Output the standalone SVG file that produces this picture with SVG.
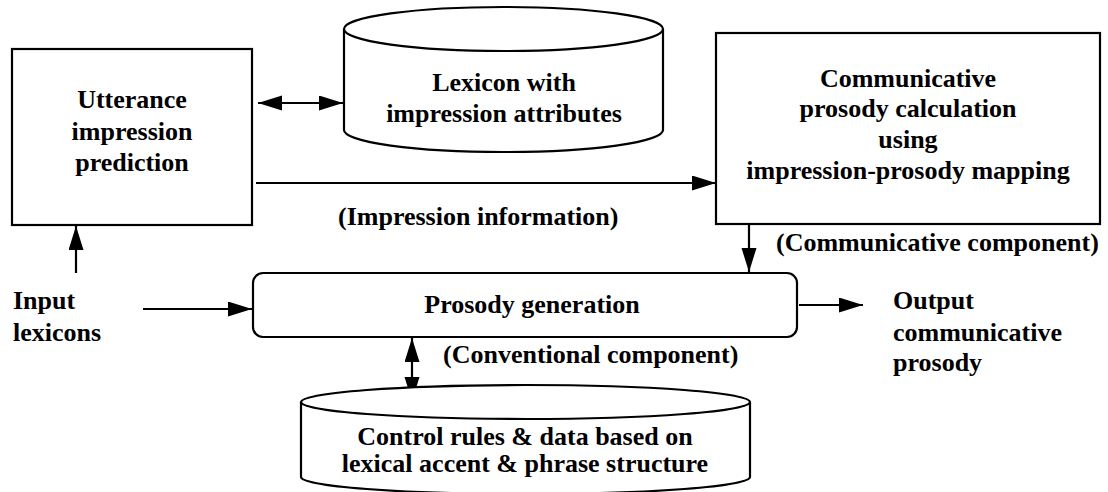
<svg xmlns="http://www.w3.org/2000/svg" width="1108" height="492" viewBox="0 0 1108 492">
<style>
.shape{fill:#fff;stroke:#000;stroke-width:2.2}
.line{fill:none;stroke:#000;stroke-width:2.2}
text{font-family:"Liberation Serif","Times New Roman",serif;font-weight:bold;font-size:26px;fill:#000}
.c{text-anchor:middle}
</style>
<defs>
<marker id="ah" markerUnits="userSpaceOnUse" markerWidth="25" markerHeight="16" refX="24" refY="7.5" orient="auto-start-reverse">
<path d="M0,0 L24,7.5 L0,15 z" fill="#000"/>
</marker>
</defs>
<rect width="1108" height="492" fill="#fff"/>
<g id="connectors">
<line class="line" x1="258" y1="103" x2="343" y2="103" marker-start="url(#ah)" marker-end="url(#ah)"/>
<line class="line" x1="256" y1="183" x2="716" y2="183" marker-end="url(#ah)"/>
<line class="line" x1="76" y1="273" x2="76" y2="226" marker-end="url(#ah)"/>
<line class="line" x1="143" y1="309" x2="252" y2="309" marker-end="url(#ah)"/>
<line class="line" x1="749" y1="225" x2="749" y2="272" marker-end="url(#ah)"/>
<line class="line" x1="799" y1="305" x2="863" y2="305" marker-end="url(#ah)"/>
<line class="line" x1="412" y1="338" x2="412" y2="401" marker-start="url(#ah)" marker-end="url(#ah)"/>
<text x="338" y="225">(Impression information)</text>
<text x="776" y="251">(Communicative component)</text>
<text x="443" y="363">(Conventional component)</text>
</g>
<g id="utterance">
<rect class="shape" x="12" y="49" width="240" height="176"/>
<text class="c" x="132" y="108">Utterance</text>
<text class="c" x="132" y="140">impression</text>
<text class="c" x="132" y="171">prediction</text>
</g>
<g id="lexicon">
<path class="shape" d="M344,29 L344,130 A159.5,22 0 0 0 663,130 L663,29"/>
<ellipse class="shape" cx="503.5" cy="29" rx="159.5" ry="22"/>
<text class="c" x="504" y="91">Lexicon with</text>
<text class="c" x="504" y="122">impression attributes</text>
</g>
<g id="communicative">
<rect class="shape" x="716" y="33" width="384" height="191"/>
<text class="c" x="908" y="87">Communicative</text>
<text class="c" x="908" y="117">prosody calculation</text>
<text class="c" x="908" y="148">using</text>
<text class="c" x="908" y="179">impression-prosody mapping</text>
</g>
<g id="input">
<text x="13" y="309">Input</text>
<text x="13" y="341">lexicons</text>
</g>
<g id="prosody">
<rect class="shape" x="253" y="273" width="544" height="64" rx="10" ry="10"/>
<text class="c" x="532" y="313">Prosody generation</text>
</g>
<g id="output">
<text x="893" y="309">Output</text>
<text x="893" y="341">communicative</text>
<text x="893" y="371">prosody</text>
</g>
<g id="rules">
<path class="shape" d="M301,402 L301,477 A224.5,17 0 0 0 750,477 L750,402"/>
<ellipse class="shape" cx="525.5" cy="402" rx="224.5" ry="17"/>
<text class="c" x="525" y="445">Control rules &amp; data based on</text>
<text class="c" x="525" y="472">lexical accent &amp; phrase structure</text>
</g>
</svg>
